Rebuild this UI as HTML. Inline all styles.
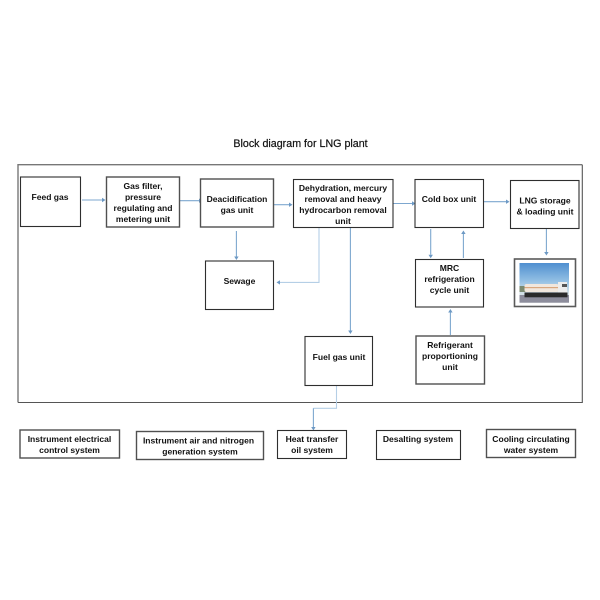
<!DOCTYPE html>
<html>
<head>
<meta charset="utf-8">
<style>
html,body{margin:0;padding:0;background:#fff;width:600px;height:600px;overflow:hidden}
svg{display:block;filter:blur(0.3px)}
text{font-family:"Liberation Sans",Arial,sans-serif}
.t{font-size:8.55px;font-weight:bold;fill:#111;text-anchor:middle}
.b{fill:#fff;stroke:#2e2e2e;stroke-width:1.1}
.g{fill:#fff;stroke:#505050;stroke-width:1.4}
.l{fill:none;stroke:#7da7cf;stroke-width:1.1}
.p{fill:none;stroke:#b5cfe6;stroke-width:1.1}
.a{fill:#6d99c4}
</style>
</head>
<body>
<svg width="600" height="600" viewBox="0 0 600 600" xmlns="http://www.w3.org/2000/svg">
<rect width="600" height="600" fill="#fff"/>
<text x="300.500" y="147" font-size="10.700" fill="#111" text-anchor="middle" stroke="#111" stroke-width="0.2">Block diagram for LNG plant</text>
<path d="M18 402.500V164.700H582.300" fill="none" stroke="#777" stroke-width="1.400"/>
<path d="M18 402.500H582.300V164.700" fill="none" stroke="#555" stroke-width="1.100"/>

<!-- connectors -->
<path class="l" d="M82 200H102"/><path class="a" d="M105.500 200l-3.500-2.200v4.400z"/>
<path class="l" d="M179 200.700H199"/><path class="a" d="M202.500 200.700l-3.500-2.200v4.400z"/>
<path class="l" d="M273.500 204.700H289"/><path class="a" d="M292.500 204.700l-3.500-2.200v4.400z"/>
<path class="l" d="M393 203.500H412"/><path class="a" d="M415.500 203.500l-3.500-2.200v4.400z"/>
<path class="l" d="M483.500 201.700H506"/><path class="a" d="M509.500 201.700l-3.500-2.200v4.400z"/>
<path class="l" d="M236.400 231V256.500"/><path class="a" d="M236.400 260l-2.200-3.500h4.400z"/>
<path class="p" d="M319 228V282.400H280"/><path class="a" d="M276.500 282.400l3.500-2.200v4.400z"/>
<path class="l" d="M350.400 228V330.500"/><path class="a" d="M350.400 334l-2.200-3.500h4.400z"/>
<path class="l" d="M430.700 229V254.700"/><path class="a" d="M430.700 258.200l-2.200-3.500h4.400z"/>
<path class="l" d="M463.400 258V234"/><path class="a" d="M463.400 230.500l-2.200 3.500h4.400z"/>
<path class="l" d="M546.400 229V252"/><path class="a" d="M546.400 255.500l-2.200-3.500h4.400z"/>
<path class="l" d="M450.400 335V312.500"/><path class="a" d="M450.400 309l-2.200 3.500h4.400z"/>
<path class="p" d="M336.500 386V408.300H313.400"/>
<path class="l" d="M313.400 408.300V427"/><path class="a" d="M313.400 430.500l-2.200-3.500h4.400z"/>

<!-- main boxes -->
<rect class="b" x="20.500" y="177" width="60" height="49.500"/>
<rect class="g" x="106.500" y="177" width="73" height="50"/>
<rect class="g" x="200.500" y="179" width="73" height="48"/>
<rect class="b" x="293.500" y="179.500" width="99.500" height="48"/>
<rect class="b" x="415" y="179.500" width="68.500" height="48"/>
<rect class="b" x="510.500" y="180.500" width="68.500" height="48"/>
<rect class="b" x="205.500" y="261" width="68" height="48.500"/>
<rect class="b" x="415.500" y="259.500" width="68" height="47.500"/>
<rect class="b" x="305" y="336.500" width="67.500" height="49"/>
<rect class="g" x="416" y="336" width="68.500" height="48"/>

<!-- truck picture -->
<rect x="514.500" y="259" width="61" height="47.500" fill="#fff" stroke="#5a5a5a" stroke-width="1.600"/>
<defs>
<linearGradient id="sky" x1="0" y1="0" x2="0" y2="1">
<stop offset="0" stop-color="#4f8fd0"/><stop offset="0.45" stop-color="#92bfe4"/><stop offset="0.72" stop-color="#cfdfe8"/><stop offset="1" stop-color="#dfe3e3"/>
</linearGradient>
</defs>
<rect x="519.500" y="263" width="49.500" height="39.700" fill="url(#sky)"/>
<rect x="519.500" y="295" width="49.500" height="7.700" fill="#8d8d9c"/>
<rect x="519.500" y="286" width="6" height="6" fill="#7b8a70"/>
<rect x="524.500" y="284" width="34" height="8" rx="2" fill="#f1e7dd"/>
<rect x="524.500" y="287" width="34" height="1.200" fill="#d9a77e"/>
<rect x="558" y="282" width="9" height="12" fill="#ececec"/>
<rect x="562" y="284" width="5" height="3" fill="#555"/>
<rect x="524.500" y="292.500" width="43" height="4.800" fill="#2a2a2a"/>

<!-- labels -->
<text class="t" x="50" y="200">Feed gas</text>

<text class="t" x="143" y="189">Gas filter,</text>
<text class="t" x="143" y="200">pressure</text>
<text class="t" x="143" y="211">regulating and</text>
<text class="t" x="143" y="222">metering unit</text>

<text class="t" x="237" y="202">Deacidification</text>
<text class="t" x="237" y="213">gas unit</text>

<text class="t" x="343" y="191">Dehydration, mercury</text>
<text class="t" x="343" y="202">removal and heavy</text>
<text class="t" x="343" y="213">hydrocarbon removal</text>
<text class="t" x="343" y="224">unit</text>

<text class="t" x="449" y="202">Cold box unit</text>

<text class="t" x="545" y="203.500">LNG storage</text>
<text class="t" x="545" y="214.500">&amp; loading unit</text>

<text class="t" x="239.500" y="284">Sewage</text>

<text class="t" x="449.500" y="271">MRC</text>
<text class="t" x="449.500" y="282">refrigeration</text>
<text class="t" x="449.500" y="293">cycle unit</text>

<text class="t" x="339" y="360">Fuel gas unit</text>

<text class="t" x="450" y="348">Refrigerant</text>
<text class="t" x="450" y="359">proportioning</text>
<text class="t" x="450" y="370">unit</text>

<!-- bottom boxes -->
<rect class="g" x="20" y="430" width="99.500" height="28"/>
<rect class="g" x="136.500" y="431.500" width="127" height="28"/>
<rect class="b" x="277.500" y="430.500" width="69" height="28"/>
<rect class="b" x="376.500" y="430.500" width="84" height="29"/>
<rect class="g" x="486.500" y="429.500" width="89" height="28"/>

<text class="t" x="69.500" y="442">Instrument electrical</text>
<text class="t" x="69.500" y="453">control system</text>
<text class="t" x="198.500" y="443.500">Instrument air and nitrogen</text>
<text class="t" x="200" y="454.500">generation system</text>
<text class="t" x="312" y="442">Heat transfer</text>
<text class="t" x="312" y="453">oil system</text>
<text class="t" x="418" y="442">Desalting system</text>
<text class="t" x="531" y="442">Cooling circulating</text>
<text class="t" x="531" y="453">water system</text>
</svg>
</body>
</html>
